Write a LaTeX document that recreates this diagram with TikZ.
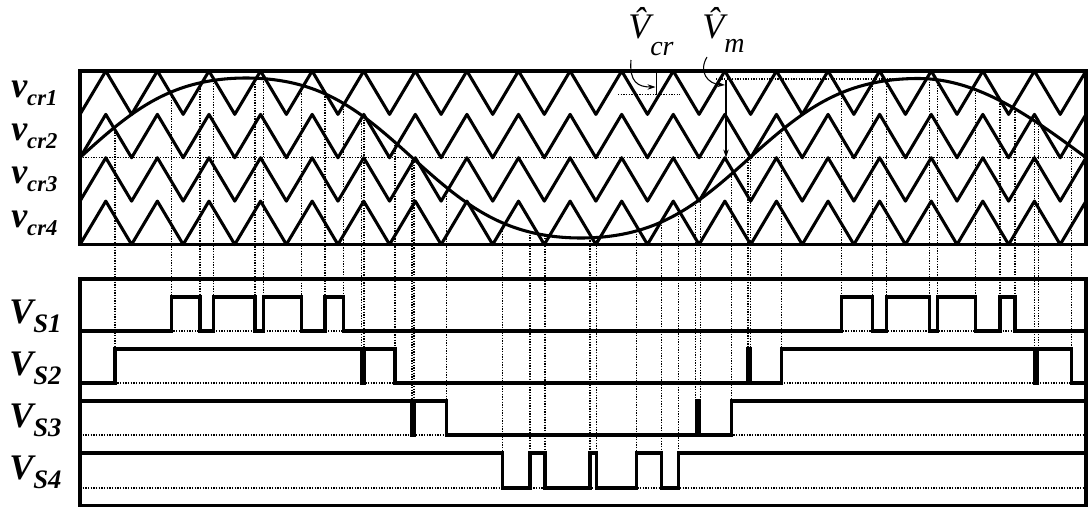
\documentclass[tikz,border=0pt]{standalone}
\usepackage{fontspec}
\setmainfont{Liberation Serif}
\usetikzlibrary{arrows.meta}
\newcommand\labA[2]{{\fontsize{27}{30}\selectfont\bfseries\itshape #1}\raisebox{-6pt}{\fontsize{17}{20}\selectfont\bfseries\itshape #2}}
\newcommand\labB[2]{{\fontsize{27}{30}\selectfont\bfseries\itshape #1}\raisebox{-7pt}{\fontsize{20}{22}\selectfont\bfseries\itshape #2}}
\newcommand\labC[3]{{\fontsize{27}{30}\selectfont\itshape\^{#1}}\raisebox{-#3}{\fontsize{21}{23}\selectfont\itshape #2}}
\begin{document}
\begin{tikzpicture}[x=0.75pt,y=-0.75pt,
  declare function={
    fa(\a)=1.05*sin(\a)+0.05*sin(3*\a);
    sy(\x)=(\x<412)?(157.5-79.5*fa((\x-80)/332*180)):((\x<750)?(157.5+80.5*fa((\x-412)/338*180)):((\x<918)?(157.5-79*fa((\x-750)/336*180)):(157.5-79*sin((\x-750)/336*180))));
  },
  frame/.style={line width=2.3pt},
  carrier/.style={line width=2.3pt,line join=round},
  sinewave/.style={line width=2.3pt,line join=round},
  pulse/.style={line width=2.3pt,line join=miter},
  guide/.style={line width=0.8pt,dash pattern=on 1pt off 1pt},
  ann/.style={line width=0.8pt},
  lab/.style={inner sep=0pt,anchor=base west}]
\useasboundingbox (0,0) rectangle (1089,507);
% horizontal dotted reference lines
\draw[guide] (80,157.5) -- (1086,157.5);
\foreach \yy in {331,383,435,488}{\draw[guide] (80,\yy) -- (1086,\yy);}
% vertical dotted projection lines
\foreach \xx in {171.7,200,213.3,255,263.3,301.7,325,343.3,841.7,872.7,886.7,929.3,937.3,975.7,1000,1015}
  {\draw[guide] (\xx,{sy(\xx)}) -- (\xx,331);}
\foreach \xx in {115,361.5,364,395,748,750.5,781.7,1034.3,1038.3,1071.7}
  {\draw[guide] (\xx,{sy(\xx)}) -- (\xx,383);}
\foreach \xx in {412,414,446.7,695.7,700.7,731.7}
  {\draw[guide] (\xx,{sy(\xx)}) -- (\xx,435);}
\foreach \xx in {502.7,530,545,590,596.7,636.7,661.7,678.3}
  {\draw[guide] (\xx,{sy(\xx)}) -- (\xx,488);}
% annotation dotted lines
\draw[guide] (618,94.3) -- (680,94.3);
\draw[guide] (716,79) -- (925,79);
% carriers
\foreach \k in {0,1,2,3}{
  \pgfmathsetmacro\yt{71+43.375*\k}
  \pgfmathsetmacro\yb{\yt+43.375}
  \draw[carrier] (80,\yb) \foreach \i in {1,...,39}{ -- ({80+\i*25.7949},{isodd(\i)?\yt:\yb}) };
}
% modulating wave
\draw[sinewave] plot[domain=80:1086,samples=400] (\x,{sy(\x)});
% frames
\draw[frame] (80,71) rectangle (1086,244.5);
\draw[frame] (80,279) rectangle (1086,505.5);
% switching signals
\draw[pulse] (80,331) -| (171.7,297) -| (200,331) -| (213.3,297) -| (255,331) -| (263.3,297) -| (301.7,331) -| (325,297) -| (343.3,331) -| (841.7,297) -| (872.7,331) -| (886.7,297) -| (929.3,331) -| (937.3,297) -| (975.7,331) -| (1000,297) -| (1015,331) -- (1086,331);
\draw[pulse] (80,383) -| (115,349) -| (361.5,383) -| (364,349) -| (395,383) -| (748,349) -| (750.5,383) -| (781.7,349) -| (1034.8,383) -| (1037.8,349) -| (1071.7,383) -- (1086,383);
\draw[pulse] (80,401) -| (412,435) -| (414,401) -| (446.7,435) -| (696.5,401) -| (699.5,435) -| (731.7,401) -- (1086,401);
\draw[pulse] (80,453) -| (502.7,488) -| (530,453) -| (545,488) -| (590,453) -| (596.7,488) -| (636.7,453) -| (661.7,488) -| (678.3,453) -- (1086,453);
% annotations
\coordinate (crtop) at (656.7,71);
\coordinate (crmid) at (656.7,94.3);
\draw[ann] (crtop) -- (crmid);
\coordinate (mtop) at (726,80);
\coordinate (mzero) at (726,157.5);
\draw[ann,-{Stealth[length=6pt,width=4pt]}] (mtop) -- (mzero);
\node[lab] (vcrhat) at (628,38) {\labC{V}{cr}{13pt}};
\node[lab] (vmhat) at (702,38) {\labC{V}{m}{11pt}};
\coordinate (crfrom) at (631,60);
\coordinate (crto) at (655.5,87);
\draw[ann,-{Stealth[length=6pt,width=4pt]}] (crfrom) .. controls (629,82) and (638,87) .. (crto);
\coordinate (mfrom) at (707,57);
\coordinate (mto) at (725,85);
\draw[ann,-{Stealth[length=6pt,width=4pt]}] (mfrom) .. controls (698,72) and (708,84) .. (mto);
% labels
\node[lab] (c1) at (11,97) {\labA{v}{cr1}};
\node[lab] (c2) at (11,140.4) {\labA{v}{cr2}};
\node[lab] (c3) at (11,183.8) {\labA{v}{cr3}};
\node[lab] (c4) at (11,227.1) {\labA{v}{cr4}};
\node[lab] (s1) at (9,323) {\labB{V}{S1}};
\node[lab] (s2) at (9,375) {\labB{V}{S2}};
\node[lab] (s3) at (9,427) {\labB{V}{S3}};
\node[lab] (s4) at (9,479) {\labB{V}{S4}};
\end{tikzpicture}
\end{document}
